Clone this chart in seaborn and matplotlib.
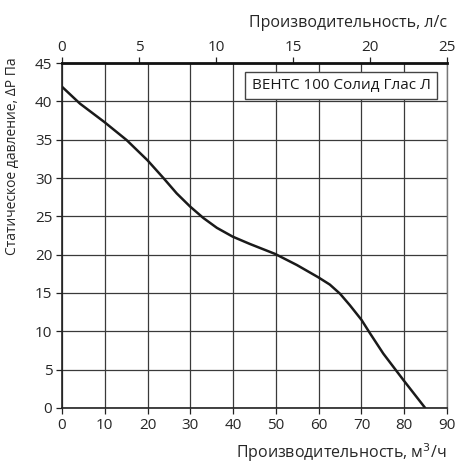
import matplotlib
matplotlib.use("Agg")
from matplotlib import pyplot as plt
import seaborn as sns
import pandas as pd

# fan curve
flow_m3h = [0, 4.2, 9.9, 15.1, 20.0, 23.7, 26.8, 29.9, 33.0, 36.2, 39.9, 43.9,
            49.8, 54.9, 59.9, 62.6, 65.0, 67.3, 70.0, 72.0, 75.1, 79.8, 84.9]
pressure_pa = [41.9, 39.7, 37.3, 34.95, 32.3, 30.0, 28.0, 26.3, 24.8, 23.5, 22.35, 21.4,
               20.1, 18.65, 17.05, 16.1, 14.9, 13.4, 11.5, 9.74, 7.1, 3.65, 0]
x_ticks = [0, 10, 20, 30, 40, 50, 60, 70, 80, 90]
y_ticks = [0, 5, 10, 15, 20, 25, 30, 35, 40, 45]
top_ticks = [0, 5, 10, 15, 20, 25]
model_name = "ВЕНТС 100 Солид Глас Л"

data = pd.DataFrame({"flow": flow_m3h, "dp": pressure_pa})

sns.set_style("white")
plt.rcParams["font.family"] = ["Open Sans", "DejaVu Sans"]

fig = plt.figure(figsize=(4.58, 4.65), dpi=100)
ax = fig.add_axes([0.1354, 0.1226, 0.8406, 0.7419])

sns.lineplot(data=data, x="flow", y="dp", ax=ax, color="#1a1a1a", linewidth=1.8)

ax.set_xlim(0, 90)
ax.set_ylim(0, 45)
ax.set_xticks(x_ticks)
ax.set_yticks(y_ticks)
ax.grid(True, color="#3a3a3a", linewidth=0.9)
ax.tick_params(axis="both", labelsize=11, length=4, width=0.9, color="#222222",
               pad=3, direction="out", bottom=True, left=True)

for side in ["left", "bottom"]:
    ax.spines[side].set_color("#222222")
    ax.spines[side].set_linewidth(1.2)
ax.spines["right"].set_color("#777777")
ax.spines["right"].set_linewidth(1.0)
ax.spines["top"].set_color("#111111")
ax.spines["top"].set_linewidth(2.0)

ax.set_xlabel("Производительность, м$^3$/ч", fontsize=11.5, loc="right", labelpad=6)
ax.set_ylabel("Статическое давление, ΔP Па", fontsize=10, loc="top", labelpad=8)
ax.yaxis.set_label_coords(-0.108, 1.015)

top = ax.secondary_xaxis("top", functions=(lambda v: v / 3.6, lambda v: v * 3.6))
top.set_xticks(top_ticks)
top.tick_params(labelsize=11, length=4, width=0.9, color="#222222", pad=2)
top.set_xlabel("Производительность, л/с", fontsize=11.5, loc="right", labelpad=9)
top.spines["top"].set_visible(False)

ax.text(0.957, 0.935, model_name, transform=ax.transAxes, ha="right", va="center",
        fontsize=11, color="#1a1a1a",
        bbox=dict(boxstyle="square,pad=0.42", facecolor="white",
                  edgecolor="#444444", linewidth=1.0))

plt.savefig("out.png", dpi=100)
